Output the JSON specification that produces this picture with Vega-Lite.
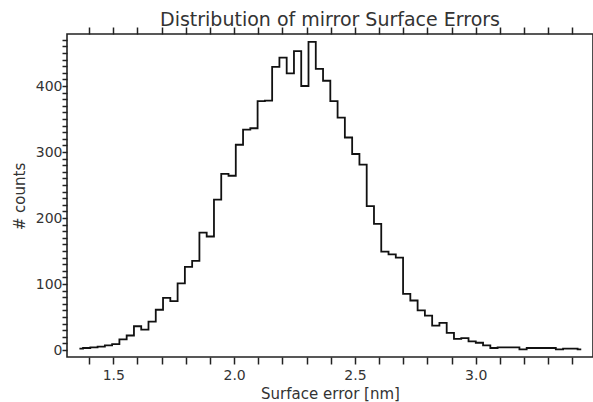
{
  "$schema": "https://vega.github.io/schema/vega-lite/v6.json",
  "width": 526,
  "height": 323,
  "autosize": {"type": "none"},
  "padding": {"left": 67, "top": 34, "right": 0, "bottom": 45},
  "background": "white",
  "title": {"text": "Distribution of mirror Surface Errors", "font": "DejaVu Sans", "fontSize": 19, "fontWeight": "normal", "color": "#333", "offset": -4, "anchor": "middle"},
  "config": {"view": {"stroke": "#222", "strokeWidth": 1.6}},
  "data": {"values": [
    {"error": 1.3597, "counts": 2}, {"error": 1.3898, "counts": 3}, {"error": 1.4199, "counts": 4}, {"error": 1.4500, "counts": 5},
    {"error": 1.4801, "counts": 7}, {"error": 1.5102, "counts": 9}, {"error": 1.5403, "counts": 16}, {"error": 1.5704, "counts": 22},
    {"error": 1.6005, "counts": 36}, {"error": 1.6306, "counts": 31}, {"error": 1.6607, "counts": 43}, {"error": 1.6908, "counts": 61},
    {"error": 1.7209, "counts": 79}, {"error": 1.7511, "counts": 74}, {"error": 1.7812, "counts": 101}, {"error": 1.8113, "counts": 126},
    {"error": 1.8414, "counts": 135}, {"error": 1.8715, "counts": 178}, {"error": 1.9016, "counts": 172}, {"error": 1.9317, "counts": 228},
    {"error": 1.9618, "counts": 267}, {"error": 1.9919, "counts": 264}, {"error": 2.0220, "counts": 311}, {"error": 2.0521, "counts": 334},
    {"error": 2.0822, "counts": 336}, {"error": 2.1123, "counts": 377}, {"error": 2.1424, "counts": 378}, {"error": 2.1725, "counts": 429},
    {"error": 2.2026, "counts": 443}, {"error": 2.2327, "counts": 419}, {"error": 2.2628, "counts": 453}, {"error": 2.2929, "counts": 400},
    {"error": 2.3230, "counts": 467}, {"error": 2.3531, "counts": 426}, {"error": 2.3832, "counts": 408}, {"error": 2.4133, "counts": 377},
    {"error": 2.4434, "counts": 352}, {"error": 2.4735, "counts": 322}, {"error": 2.5037, "counts": 297}, {"error": 2.5338, "counts": 281},
    {"error": 2.5639, "counts": 218}, {"error": 2.5940, "counts": 191}, {"error": 2.6241, "counts": 149}, {"error": 2.6542, "counts": 145},
    {"error": 2.6843, "counts": 140}, {"error": 2.7144, "counts": 85}, {"error": 2.7445, "counts": 75}, {"error": 2.7746, "counts": 60},
    {"error": 2.8047, "counts": 52}, {"error": 2.8348, "counts": 37}, {"error": 2.8649, "counts": 41}, {"error": 2.8950, "counts": 26},
    {"error": 2.9251, "counts": 17}, {"error": 2.9552, "counts": 18}, {"error": 2.9853, "counts": 13}, {"error": 3.0154, "counts": 11},
    {"error": 3.0455, "counts": 7}, {"error": 3.0756, "counts": 3}, {"error": 3.1057, "counts": 4}, {"error": 3.1358, "counts": 4},
    {"error": 3.1659, "counts": 4}, {"error": 3.1960, "counts": 1}, {"error": 3.2261, "counts": 3}, {"error": 3.2563, "counts": 3},
    {"error": 3.2864, "counts": 3}, {"error": 3.3165, "counts": 3}, {"error": 3.3466, "counts": 1}, {"error": 3.3767, "counts": 2},
    {"error": 3.4068, "counts": 2}, {"error": 3.4369, "counts": 1}
  ]},
  "layer": [
    {
      "mark": {"type": "line", "interpolate": "step", "color": "#111", "strokeWidth": 1.8},
      "encoding": {
        "x": {
          "field": "error", "type": "quantitative",
          "scale": {"domain": [1.30836, 3.4855], "nice": false, "zero": false},
          "axis": {
            "orient": "bottom",
            "values": [1.4, 1.5, 1.6, 1.7, 1.8, 1.9, 2.0, 2.1, 2.2, 2.3, 2.4, 2.5, 2.6, 2.7, 2.8, 2.9, 3.0, 3.1, 3.2, 3.3, 3.4],
            "labelExpr": "abs(datum.value*2-round(datum.value*2)) < 1e-6 ? format(datum.value, '.1f') : ''",
            "labelFont": "DejaVu Sans", "labelFontSize": 14, "labelColor": "#333", "labelPadding": 4,
            "labelOverlap": false, "labelFlush": false,
            "tickSize": 7, "tickColor": "#222", "tickWidth": 1.5,
            "domain": false, "grid": false,
            "title": "Surface error [nm]", "titleFont": "DejaVu Sans", "titleFontSize": 15, "titleFontWeight": "normal", "titleColor": "#333",
            "titleY": 41, "titleBaseline": "alphabetic",
            "encode": {"ticks": {"update": {"y2": {"signal": "abs(datum.value*2-round(datum.value*2)) < 1e-6 ? -7 : -3.5"}}}}
          }
        },
        "y": {
          "field": "counts", "type": "quantitative",
          "scale": {"domain": [-10.6, 478.8], "nice": false, "zero": false},
          "axis": {
            "orient": "left",
            "values": [0, 10, 20, 30, 40, 50, 60, 70, 80, 90, 100, 110, 120, 130, 140, 150, 160, 170, 180, 190, 200, 210, 220, 230, 240, 250, 260, 270, 280, 290, 300, 310, 320, 330, 340, 350, 360, 370, 380, 390, 400, 410, 420, 430, 440, 450, 460, 470],
            "labelExpr": "datum.value % 100 === 0 ? datum.label : ''",
            "labelFont": "DejaVu Sans", "labelFontSize": 14, "labelColor": "#333", "labelPadding": 0,
            "labelOverlap": false, "labelFlush": false,
            "tickSize": 5, "tickColor": "#222", "tickWidth": 1.5,
            "domain": false, "grid": false,
            "title": "# counts", "titleFont": "DejaVu Sans", "titleFontSize": 15, "titleFontWeight": "normal", "titleColor": "#333",
            "titleX": -43, "titleY": 162, "titleBaseline": "alphabetic", "titleAlign": "center", "titleAngle": -90,
            "encode": {"ticks": {"update": {"x2": {"signal": "datum.value % 100 === 0 ? 10 : 5"}}}}
          }
        }
      }
    },
    {
      "mark": {"type": "line", "interpolate": "step", "strokeOpacity": 0},
      "encoding": {
        "x": {
          "field": "error", "type": "quantitative",
          "scale": {"domain": [1.30836, 3.4855], "nice": false, "zero": false},
          "axis": {
            "orient": "top",
            "values": [1.4, 1.5, 1.6, 1.7, 1.8, 1.9, 2.0, 2.1, 2.2, 2.3, 2.4, 2.5, 2.6, 2.7, 2.8, 2.9, 3.0, 3.1, 3.2, 3.3, 3.4],
            "labels": false, "title": null, "domain": false, "grid": false,
            "tickSize": 7, "tickColor": "#222", "tickWidth": 1.5,
            "encode": {"ticks": {"update": {"y2": {"signal": "abs(datum.value*2-round(datum.value*2)) < 1e-6 ? 7 : 3.5"}}}}
          }
        },
        "y": {
          "field": "counts", "type": "quantitative",
          "scale": {"domain": [-10.6, 478.8], "nice": false, "zero": false},
          "axis": {
            "orient": "right",
            "values": [0, 10, 20, 30, 40, 50, 60, 70, 80, 90, 100, 110, 120, 130, 140, 150, 160, 170, 180, 190, 200, 210, 220, 230, 240, 250, 260, 270, 280, 290, 300, 310, 320, 330, 340, 350, 360, 370, 380, 390, 400, 410, 420, 430, 440, 450, 460, 470],
            "labels": false, "title": null, "domain": false, "grid": false,
            "tickSize": 5, "tickColor": "#222", "tickWidth": 1.5,
            "encode": {"ticks": {"update": {"x2": {"signal": "datum.value % 100 === 0 ? -10 : -5"}}}}
          }
        }
      }
    }
  ],
  "resolve": {"axis": {"x": "independent", "y": "independent"}}
}
